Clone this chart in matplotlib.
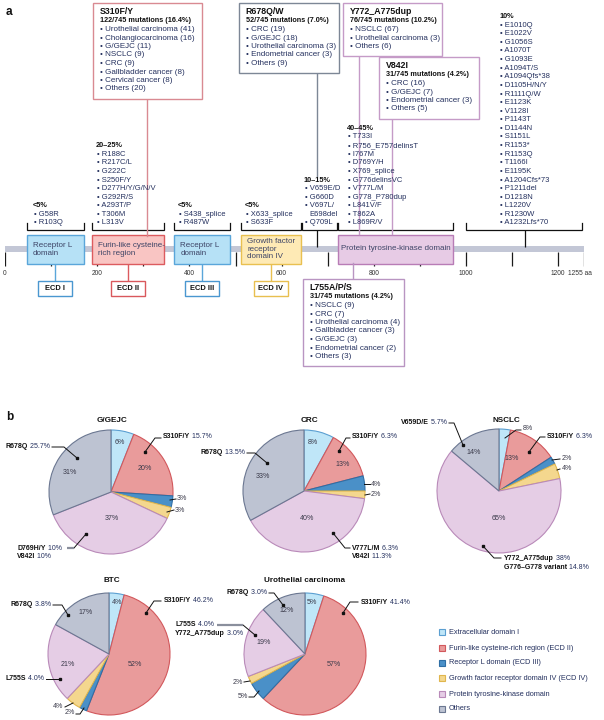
import matplotlib
matplotlib.use('Agg')
import matplotlib.pyplot as plt
from matplotlib.patches import Rectangle

plt.rcParams['font.family'] = ['Liberation Sans', 'DejaVu Sans']

W, H = 604, 720
NAVY = '#24305e'
DARK = '#111111'

# ---------------- data: panel a ----------------
PROTEIN_LEN = 1255
domain_names = ["Receptor L\ndomain", "Furin-like cysteine-\nrich region", "Receptor L\ndomain",
                "Growth factor\nreceptor\ndomain IV", "Protein tyrosine-kinase domain"]
domain_start = [48, 189, 367, 512, 722]
domain_end = [171, 345, 488, 642, 972]
domain_face = ['#b6e1f6', '#f9c5c3', '#b6e1f6', '#feeab5', '#e7cbe5']
domain_edge = ['#5aa6da', '#dc5b5f', '#5aa6da', '#e9c050', '#b87cb6']
ecd_labels = ["ECD I", "ECD II", "ECD III", "ECD IV"]
ecd_edge = ['#4a97d0', '#d9585c', '#4a97d0', '#e8bf50']

tick_pos = [0, 100, 200, 300, 400, 500, 600, 700, 800, 900, 1000, 1100, 1200, 1255]
tick_labels = {0: "0", 200: "200", 400: "400", 600: "600", 800: "800", 1000: "1000", 1200: "1200", 1255: "1255 aa"}

bracket_start = [48, 189, 367, 512, 644, 722, 1000]
bracket_end = [171, 345, 488, 642, 720, 972, 1252]
bracket_stem = [None, None, None, None, 677, None, 1128]

list_heads = ["<5%", "20–25%", "<5%", "<5%", "10–15%", "40–45%", "10%"]
list_x = [33, 96, 178, 245, 304, 347, 499]
list_items = [
    ["G58R", "R103Q"],
    ["R188C", "R217C/L", "G222C", "S250F/Y", "D277H/Y/G/N/V", "G292R/S", "A293T/P", "T306M", "L313V"],
    ["S438_splice", "R487W"],
    ["X633_splice", "S633F"],
    ["V659E/D", "G660D", "V697L/", "\tE698del", "Q709L"],
    ["T733I", "R756_E757delinsT", "I767M", "D769Y/H", "X769_splice", "G776delinsVC", "V777L/M",
     "G778_P780dup", "L841V/F", "T862A", "L869R/V"],
    ["E1010Q", "E1022V", "G1056S", "A1070T", "G1093E", "A1094T/S", "A1094Qfs*38", "D1105H/N/Y",
     "R1111Q/W", "E1123K", "V1128I", "P1143T", "D1144N", "S1151L", "R1153*", "R1153Q", "T1166I",
     "E1195K", "A1204Cfs*73", "P1211del", "D1218N", "L1220V", "R1230W", "A1232Lfs*70"],
]

box_titles = ["S310F/Y", "R678Q/W", "Y772_A775dup", "V842I", "L755A/P/S"]
box_counts = [122, 52, 76, 31, 31]
TOTAL_MUT = 745
box_items = [
    [("Urothelial carcinoma", 41), ("Cholangiocarcinoma", 16), ("G/GEJC", 11), ("NSCLC", 9), ("CRC", 9),
     ("Gallbladder cancer", 8), ("Cervical cancer", 8), ("Others", 20)],
    [("CRC", 19), ("G/GEJC", 18), ("Urothelial carcinoma", 3), ("Endometrial cancer", 3), ("Others", 9)],
    [("NSCLC", 67), ("Urothelial carcinoma", 3), ("Others", 6)],
    [("CRC", 16), ("G/GEJC", 7), ("Endometrial cancer", 3), ("Others", 5)],
    [("NSCLC", 9), ("CRC", 7), ("Urothelial carcinoma", 4), ("Gallbladder cancer", 3), ("G/GEJC", 3),
     ("Endometrial cancer", 2), ("Others", 3)],
]
box_x0 = [93, 239, 343, 379, 303]
box_x1 = [202, 339, 442, 479, 404]
box_top = [3, 3, 3, 57, 279]
box_edge = ['#d98a92', '#7d8796', '#c59bc7', '#c59bc7', '#b995c2']
box_link_x = [147, 317, 359, 392, 353]
box_link_end = [236, 176, 234, 234, 263]

# ---------------- data: panel b ----------------
seg_names = ["Extracellular domain I", "Furin-like cysteine-rich region (ECD II)", "Receptor L domain (ECD III)",
             "Growth factor receptor domain IV (ECD IV)", "Protein tyrosine-kinase domain", "Others"]
seg_fill = ['#bfe6f8', '#e99b9b', '#4a90c8', '#f4d78e', '#e5cde5', '#bdc3d2']
seg_edge = ['#5b9fd1', '#d2585c', '#2f6ea5', '#e0b64d', '#b98ab9', '#6b7791']

pie_titles = ["G/GEJC", "CRC", "NSCLC", "BTC", "Urothelial carcinoma"]
pie_values = [
    [6, 20, 3, 3, 37, 31],
    [8, 13, 4, 2, 40, 33],
    [3, 13, 2, 4, 65, 14],
    [4, 52, 2, 4, 21, 17],
    [5, 57, 5, 2, 19, 12],
]
pie_pct_text = [
    ["6%", "20%", "3%", "3%", "37%", "31%"],
    ["8%", "13%", "4%", "2%", "40%", "33%"],
    ["8%", "13%", "2%", "4%", "65%", "14%"],
    ["4%", "52%", "2%", "4%", "21%", "17%"],
    ["5%", "57%", "5%", "2%", "19%", "12%"],
]
pie_center = [(111, 492), (304, 491), (499, 491), (109, 654), (305, 654)]
pie_radius = [62, 61, 62, 61, 61]
pie_title_pos = [(112, 421), (309, 421), (506, 421), (112, 580), (305, 580)]

# ---------------- figure ----------------
fig = plt.figure(figsize=(W / 100, H / 100), dpi=100)
fig.patch.set_facecolor('white')

AA_LEFT_PX, AA_PX = 5.0, 0.461
ax_p = fig.add_axes([AA_LEFT_PX / W, 0, PROTEIN_LEN * AA_PX / W, 1])
ax_p.set_xlim(0, PROTEIN_LEN)
ax_p.set_ylim(H, 0)
ax_p.axis('off')

# band
ax_p.barh(249.2, PROTEIN_LEN, height=5.5, left=0, color='#c3c7d6', zorder=2)
# ticks
ax_p.vlines(tick_pos, 252, 266, color='#1a1a1a', lw=0.9, zorder=1)
for tp in tick_pos:
    if tp in tick_labels:
        ax_p.text(tp - (7 if tp == 1255 else 0), 273.5, tick_labels[tp], fontsize=4.8, color='#333333',
                  ha='center', va='center')
# domains
for i, (nm, s, e) in enumerate(zip(domain_names, domain_start, domain_end)):
    ax_p.add_patch(Rectangle((s, 235), e - s, 29, facecolor=domain_face[i], edgecolor=domain_edge[i],
                             lw=1.0, zorder=3))
    if i < 4:
        ax_p.text(s + 13, 249.3, nm, fontsize=5.8, color='#3d4466', ha='left', va='center',
                  linespacing=1.1, zorder=4)
        cx = (s + e) / 2
        ax_p.vlines(cx, 264, 281, color=domain_edge[i], lw=1.0, zorder=2)
        bw = 34 / AA_PX
        ax_p.add_patch(Rectangle((cx - bw / 2, 281), bw, 14.5, facecolor='white', edgecolor=ecd_edge[i],
                                 lw=1.0, zorder=3))
        ax_p.text(cx, 288.3, ecd_labels[i], fontsize=5.4, fontweight='bold', color=DARK, ha='center',
                  va='center', zorder=4)
    else:
        ax_p.text((s + e) / 2, 248.5, nm, fontsize=5.8, color='#3d4466', ha='center', va='center', zorder=4)

# brackets
for s, e, st in zip(bracket_start, bracket_end, bracket_stem):
    ax_p.plot([s, s, e, e], [223, 230, 230, 223], color=DARK, lw=0.9, zorder=3, solid_joinstyle='miter')
    if st is not None:
        ax_p.vlines(st, 230, 246.5, color=DARK, lw=0.9, zorder=3)

# ---------------- pies ----------------
for k in range(5):
    cx, cy = pie_center[k]
    r = pie_radius[k]
    f = 1.05
    pa = fig.add_axes([(cx - r * f) / W, 1 - (cy + r * f) / H, 2 * r * f / W, 2 * r * f / H])
    wedges, _ = pa.pie(pie_values[k], colors=seg_fill, startangle=90, counterclock=False,
                       wedgeprops=dict(linewidth=0.8))
    for wdg, ec in zip(wedges, seg_edge):
        wdg.set_edgecolor(ec)
    pa.set_xlim(-f, f)
    pa.set_ylim(-f, f)
    pa.axis('off')

# ---------------- overlay (pixel coordinates) ----------------
ax = fig.add_axes([0, 0, 1, 1])
ax.set_zorder(10)
ax.patch.set_alpha(0)
ax.set_xlim(0, W)
ax.set_ylim(H, 0)
ax.axis('off')
renderer = fig.canvas.get_renderer()


def txt(x, y, s, size=5.0, weight='normal', color=NAVY, ha='left', va='center', **kw):
    return ax.text(x, y, s, fontsize=size, fontweight=weight, color=color, ha=ha, va=va, **kw)


def rich(x, y, segs, size=5.0, ha='left'):
    objs, widths = [], []
    for s, w, c in segs:
        t = ax.text(0, y, s, fontsize=size, fontweight=w, color=c, ha='left', va='center')
        objs.append(t)
        widths.append(t.get_window_extent(renderer).width)
    cur = x - sum(widths) if ha == 'right' else x
    for t, wd in zip(objs, widths):
        t.set_x(cur)
        cur += wd


txt(6, 12, "a", size=8.5, weight='bold', color=DARK)
txt(6, 417, "b", size=8.5, weight='bold', color=DARK)

# mutation lists
SP = 8.6
for head, x, items in zip(list_heads, list_x, list_items):
    y0 = 223 - len(items) * SP
    txt(x, y0, head, size=5.3, weight='bold', color=DARK)
    for j, it in enumerate(items):
        y = y0 + (j + 1) * SP
        if it.startswith("\t"):
            txt(x + 5.5, y, it[1:], size=5.5)
        else:
            txt(x + 1, y, "• " + it, size=5.5)

# mutation boxes
for i in range(5):
    x0, x1, top = box_x0[i], box_x1[i], box_top[i]
    n = len(box_items[i])
    bottom = top + 26.5 + (n - 1) * 8.5 + 9.5
    ax.add_patch(Rectangle((x0, top), x1 - x0, bottom - top, facecolor='white', edgecolor=box_edge[i],
                           lw=1.0, zorder=2))
    txt(x0 + 6.5, top + 8.5, box_titles[i], size=6.3, weight='bold', color=DARK, zorder=3)
    pct = 100.0 * box_counts[i] / TOTAL_MUT
    txt(x0 + 6.5, top + 17.5, f"{box_counts[i]}/{TOTAL_MUT} mutations ({pct:.1f}%)", size=5.2,
        weight='bold', color=DARK, zorder=3)
    for j, (nm, c) in enumerate(box_items[i]):
        txt(x0 + 7.5, top + 26.5 + j * 8.5, f"• {nm} ({c})", size=5.8, zorder=3)
    lx = box_link_x[i]
    if i == 4:
        ax.plot([lx, lx], [box_link_end[i], top], color=box_edge[i], lw=1.0, zorder=1)
    else:
        ax.plot([lx, lx], [bottom, box_link_end[i]], color=box_edge[i], lw=1.0, zorder=1)

# pie titles and percent labels
pct_pos = [
    [(120, 442, 'center'), (145, 468, 'center'), (177, 499, 'left'), (175, 510, 'left'), (112, 519, 'center'), (70, 473, 'center')],
    [(313, 442, 'center'), (343, 464, 'center'), (371, 484, 'left'), (371, 494, 'left'), (307, 519, 'center'), (263, 476, 'center')],
    [(523, 429, 'left'), (512, 458, 'center'), (562, 459, 'left'), (562, 469, 'left'), (499, 519, 'center'), (474, 453, 'center')],
    [(117, 603, 'center'), (135, 664, 'center'), (65, 712, 'left'), (63, 707, 'right'), (68, 664, 'center'), (86, 613, 'center')],
    [(312, 603, 'center'), (334, 664, 'center'), (248, 697, 'right'), (243, 682, 'right'), (264, 642, 'center'), (287, 611, 'center')],
]
for k in range(5):
    tx, ty = pie_title_pos[k]
    txt(tx, ty, pie_titles[k], size=5.9, weight='bold', color=DARK, ha='center')
    for lab, (px, py, ha) in zip(pie_pct_text[k], pct_pos[k]):
        txt(px, py, lab, size=5.1, color='#3a3a4a', ha=ha)

# small-slice leaders
small_leaders = [
    [(170, 500), (176, 499)], [(167, 512), (174, 510)],
    [(364, 484), (370, 484)], [(365, 495), (370, 494)],
    [(505, 438), (516, 430), (521, 430)], [(552, 460), (560, 459)], [(557, 470), (560, 469)],
    [(65, 707), (73, 703)], [(76, 714), (80, 714), (84, 708)],
    [(249, 697), (254, 697), (259, 691)], [(244, 682), (250, 681)],
]
for pts in small_leaders:
    xs, ys = zip(*pts)
    ax.plot(xs, ys, color=DARK, lw=0.7)

# hotspot annotations: lines[(name, pct)], x, y, ha, leader points, grey part
annots = [
    ([("S310F/Y", " 15.7%")], 163, 437, 'left', [(145, 452), (155, 438), (161, 438)], None),
    ([("R678Q", " 25.7%")], 50, 447, 'right', [(77, 458), (64, 447), (52, 447)], None),
    ([("D769H/Y", " 10%"), ("V842I", " 10%")], 17, 548, 'left', [(86, 534), (74, 548)], [(74, 548), (67, 548)]),
    ([("S310F/Y", " 6.3%")], 352, 437, 'left', [(339, 451), (346, 438), (350, 438)], None),
    ([("R678Q", " 13.5%")], 245, 453, 'right', [(267, 463), (255, 453), (247, 453)], None),
    ([("V777L/M", " 6.3%"), ("V842I", " 11.3%")], 352, 548, 'left', [(333, 533), (345, 548), (350, 548)], None),
    ([("S310F/Y", " 6.3%")], 547, 437, 'left', [(529, 452), (540, 437), (545, 437)], None),
    ([("V659D/E", " 5.7%")], 447, 423, 'right', [(463, 445), (454, 423), (449, 423)], None),
    ([("Y772_A775dup", " 38%"), ("G776–G778 variant", " 14.8%")], 504, 559, 'left',
     [(483, 546), (494, 558), (501, 558)], None),
    ([("S310F/Y", " 46.2%")], 164, 601, 'left', [(146, 613), (154, 601), (161, 601)], None),
    ([("R678Q", " 3.8%")], 51, 605, 'right', [(68, 615), (62, 605), (53, 605)], None),
    ([("L755S", " 4.0%")], 44, 679, 'right', [(60, 679), (46, 679)], None),
    ([("S310F/Y", " 41.4%")], 361, 602, 'left', [(343, 613), (350, 602), (358, 602)], None),
    ([("R678Q", " 3.0%")], 267, 593, 'right', [(283, 605), (274, 593), (269, 593)], None),
    ([("L755S", " 4.0%"), ("Y772_A775dup", " 3.0%")], 175, 625, 'left', [(255, 635), (243, 625)],
     [(243, 625), (217, 625)]),
]
for lines, x, y, ha, pts, grey in annots:
    for j, (nm, pc) in enumerate(lines):
        rich(x, y + j * 8.8, [(nm, 'bold', DARK), (pc, 'normal', NAVY)], size=5.0, ha=ha)
    xs, ys = zip(*pts)
    ax.plot(xs, ys, color=DARK, lw=0.7)
    ax.plot([xs[0]], [ys[0]], 's', color=DARK, ms=1.6)
    if grey:
        gx, gy = zip(*grey)
        ax.plot(gx, gy, color='#8a8f9c', lw=1.6, solid_capstyle='butt')

# legend
leg_y = [632, 648, 663, 678, 694, 709]
for nm, fc, ec, y in zip(seg_names, seg_fill, seg_edge, leg_y):
    ax.add_patch(Rectangle((439, y - 3.2), 6.4, 6.4, facecolor=fc, edgecolor=ec, lw=0.8))
    txt(449, y, nm, size=5.3, color=NAVY)

fig.savefig('out.png', dpi=100, facecolor='white')
